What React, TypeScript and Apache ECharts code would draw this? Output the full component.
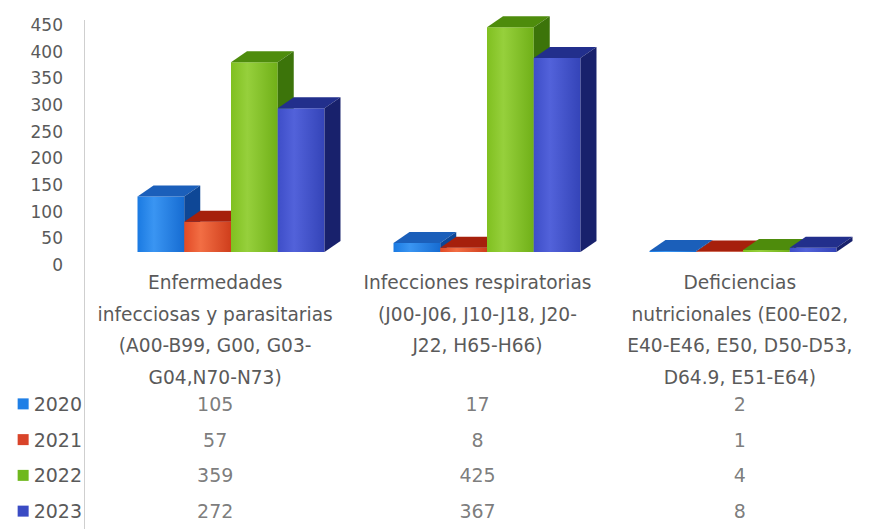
import React, { useEffect, useRef } from "react";
import * as echarts from "echarts";

const categories = [
  "Enfermedades\ninfecciosas y parasitarias\n(A00-B99, G00, G03-\nG04,N70-N73)",
  "Infecciones respiratorias\n(J00-J06, J10-J18, J20-\nJ22, H65-H66)",
  "Deficiencias\nnutricionales (E00-E02,\nE40-E46, E50, D50-D53,\nD64.9, E51-E64)",
];
const years = ["2020", "2021", "2022", "2023"];
const values2020 = [105, 17, 2];
const values2021 = [57, 8, 1];
const values2022 = [359, 425, 4];
const values2023 = [272, 367, 8];
const seriesValues = [values2020, values2021, values2022, values2023];
const yTicks = { min: 0, max: 450, interval: 50 };

const palette = [
  { legend: "#1f7fe6", front: ["#3a95f2", "#1a7ae2", "#166cd2"], top: "#1b5fba", side: "#0e4796" },
  { legend: "#d9442a", front: ["#f26e44", "#e24a26", "#cf3e1c"], top: "#a6200c", side: "#8e1a0a" },
  { legend: "#6fb81e", front: ["#96d03c", "#80c020", "#70b018"], top: "#4e8c0c", side: "#3c740a" },
  { legend: "#3a4bc4", front: ["#5262da", "#3e4ec8", "#3444b8"], top: "#222f8c", side: "#18216c" },
];

const DX = 16;
const DY = -11;
const FONT = "DejaVu Sans";
const TXT = "#5a5a5a";

function makeRender(slot: number) {
  const c = palette[slot];
  return (params: any, api: any) => {
    const cat = api.value(0);
    const val = api.value(1);
    const band = api.size([1, 0])[0];
    const bw = band * 0.1826;
    const base = api.coord([cat, 0]);
    const topP = api.coord([cat, val]);
    const x0 = base[0] - 2 * bw + slot * bw;
    const x1 = x0 + bw;
    const yb = base[1];
    const yt = topP[1];
    return {
      type: "group",
      children: [
        {
          type: "rect",
          shape: { x: x0, y: yt, width: bw, height: Math.max(yb - yt, 0.5) },
          style: {
            fill: new echarts.graphic.LinearGradient(0, 0, 1, 0, [
              { offset: 0, color: c.front[1] },
              { offset: 0.35, color: c.front[0] },
              { offset: 1, color: c.front[2] },
            ]),
          },
        },
        {
          type: "polygon",
          shape: { points: [[x0, yt], [x1, yt], [x1 + DX, yt + DY], [x0 + DX, yt + DY]] },
          style: { fill: c.top },
        },
        {
          type: "polygon",
          shape: { points: [[x1, yt], [x1 + DX, yt + DY], [x1 + DX, yb + DY], [x1, yb]] },
          style: { fill: c.side },
        },
      ],
    };
  };
}

export default function App() {
  const ref = useRef<HTMLDivElement>(null);
  useEffect(() => {
    if (!ref.current) return;
    const chart = echarts.init(ref.current, null, { renderer: "svg" });
    const rich: any = { t: { fontFamily: FONT, fontSize: 19, color: TXT, padding: [0, 0, 0, 5] } };
    palette.forEach((p, i) => {
      rich["s" + i] = { width: 11, height: 11, backgroundColor: p.legend };
    });
    const tableData: any[] = [];
    seriesValues.forEach((arr, yi) => arr.forEach((v, ci) => tableData.push([ci, yi, v])));

    chart.setOption({
      animation: false,
      backgroundColor: "#ffffff",
      textStyle: { fontFamily: FONT },
      grid: [
        { left: 84, width: 798, top: 25, height: 240 },
        { left: 103, width: 794, top: 14, height: 238 },
        { left: 84, width: 798, top: 386, height: 151 },
      ],
      xAxis: [
        {
          gridIndex: 0,
          type: "category",
          data: categories,
          axisLine: { show: false },
          axisTick: { show: false },
          axisLabel: { interval: 0, margin: 2, lineHeight: 31.5, fontSize: 18.6, color: TXT, fontFamily: FONT },
        },
        { gridIndex: 1, type: "category", data: categories, show: false },
        { gridIndex: 2, type: "category", data: categories, show: false },
      ],
      yAxis: [
        {
          gridIndex: 0,
          type: "value",
          min: yTicks.min,
          max: yTicks.max,
          interval: yTicks.interval,
          axisLine: { show: false },
          axisTick: { show: false },
          splitLine: { show: false },
          axisLabel: { margin: 21, fontSize: 17, color: TXT, fontFamily: FONT },
        },
        { gridIndex: 1, type: "value", min: yTicks.min, max: yTicks.max, show: false },
        {
          gridIndex: 2,
          type: "category",
          data: years,
          inverse: true,
          axisLine: { show: false },
          axisTick: { show: false },
          axisLabel: {
            margin: 2,
            formatter: (v: string, i: number) => `{s${i}|}{t|${v}}`,
            rich,
          },
        },
      ],
      graphic: [
        {
          type: "line",
          shape: { x1: 84.5, y1: 20, x2: 84.5, y2: 529 },
          style: { stroke: "#cfcfcf", lineWidth: 1 },
        },
      ],
      series: [
        ...seriesValues.map((arr, i) => ({
          type: "custom",
          name: years[i],
          xAxisIndex: 1,
          yAxisIndex: 1,
          clip: false,
          renderItem: makeRender(i),
          data: arr.map((v, ci) => [ci, v]),
        })),
        {
          type: "scatter",
          xAxisIndex: 2,
          yAxisIndex: 2,
          symbolSize: 0,
          data: tableData,
          label: {
            show: true,
            position: "inside",
            formatter: (p: any) => String(p.value[2]),
            fontFamily: FONT,
            fontSize: 19,
            color: TXT,
          },
        },
      ],
    });
    return () => chart.dispose();
  }, []);
  return (
    <div
      ref={ref}
      style={{ position: "fixed", left: 0, top: 0, width: 871, height: 529, background: "#fff" }}
    />
  );
}
